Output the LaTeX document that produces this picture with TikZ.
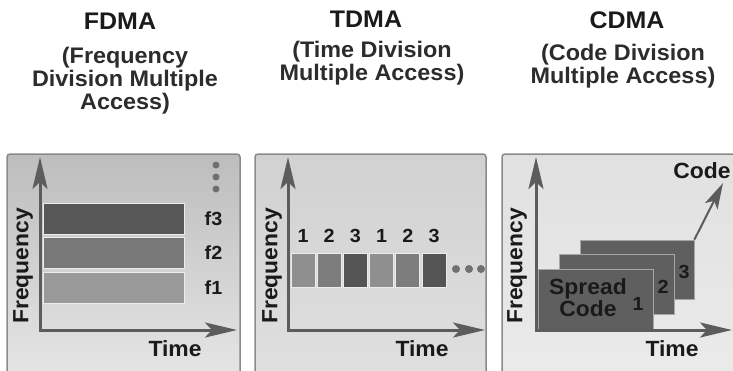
\documentclass[tikz,border=0pt]{standalone}
\usepackage{fontspec}
\setmainfont{Liberation Sans}[FakeStretch=1.04]
\usetikzlibrary{arrows.meta,calc,positioning}

\definecolor{testo}{HTML}{1A1A1A}
\definecolor{bordo}{HTML}{8A8A8A}
\definecolor{assegrigio}{HTML}{5C5C5C}
\definecolor{fbanda3}{HTML}{575757}
\definecolor{fbanda2}{HTML}{787878}
\definecolor{fbanda1}{HTML}{999999}
\definecolor{tslot1}{HTML}{8F8F8F}
\definecolor{tslot2}{HTML}{7D7D7D}
\definecolor{tslot3}{HTML}{545454}
\definecolor{cartagrigia}{HTML}{5F5F5F}
\definecolor{puntini}{HTML}{707070}

\begin{document}
\begin{tikzpicture}[x=1pt, y=-1pt,
    asse/.style={draw=assegrigio, line width=3pt,
        {Stealth[length=32pt, width=15pt, inset=7pt]}-{Stealth[length=32pt, width=15pt, inset=7pt]}},
    codefreccia/.style={draw=assegrigio, line width=2pt, -{Stealth[length=26pt, width=14pt, inset=6pt]}},
    titolo/.style={font=\bfseries\fontsize{24}{26}\selectfont, text=testo, anchor=base, inner sep=0pt},
    sottotitolo/.style={font=\bfseries\fontsize{22.5}{23}\selectfont, text=testo!92!white, align=center, anchor=north, inner sep=0pt},
    etichetta/.style={font=\bfseries\fontsize{22}{22}\selectfont, text=testo, inner sep=0pt},
    numero/.style={font=\bfseries\fontsize{19}{19}\selectfont, text=testo, inner sep=0pt},
    pannello/.style={draw=bordo, line width=1.5pt, rounded corners=3pt},
    banda/.style={draw=white!85!gray, line width=1pt, minimum width=141pt, minimum height=31pt, inner sep=0pt},
    slot/.style={draw=white!85!gray, line width=0.8pt, minimum width=24pt, minimum height=34pt, inner sep=0pt},
    carta/.style={fill=cartagrigia, draw=gray!70, line width=0.8pt, inner sep=0pt},
    punto/.style={circle, fill=puntini, inner sep=0pt, minimum size=7pt}]

    \useasboundingbox (0,0) rectangle (733,370);

    % Titoli
    \node[titolo] (fdma) at (120,29) {FDMA};
    \node[sottotitolo] (fdmasub) at (125,47) {(Frequency\\Division Multiple\\Access)};
    \node[titolo] (tdma) at (366,27) {TDMA};
    \node[sottotitolo] (tdmasub) at (372,41) {(Time Division\\Multiple Access)};
    \node[titolo] (cdma) at (627,28) {CDMA};
    \node[sottotitolo] (cdmasub) at (623,44) {(Code Division\\Multiple Access)};

    % Pannelli di sfondo
    \draw[pannello, top color=gray!52, bottom color=gray!20] (7,154) rectangle (240,376);
    \draw[pannello, top color=gray!36, bottom color=gray!25] (255,154) rectangle (486,376);
    \draw[pannello, top color=gray!24, bottom color=gray!16] (502,154) rectangle (737,376);

    % FDMA: bande di frequenza
    \node[banda, fill=fbanda3] (f3bar) at (113.5,219) {};
    \node[banda, fill=fbanda2] (f2bar) at (113.5,253) {};
    \node[banda, fill=fbanda1] (f1bar) at (113.5,287.5) {};
    \node[numero, right=20pt of f3bar] (f3lab) {f3};
    \node[numero, right=20pt of f2bar] (f2lab) {f2};
    \node[numero, right=20pt of f1bar] (f1lab) {f1};
    \node[punto] (fd1) at (216,165) {};
    \node[punto] (fd2) at (216,177) {};
    \node[punto] (fd3) at (216,189) {};

    % Assi FDMA
    \coordinate (o1) at (40,330);
    \coordinate (y1) at (40,157);
    \coordinate (x1) at (237,330);
    \draw[asse] (y1) -- (o1) -- (x1);
    \node[etichetta, rotate=90] (freq1) at (23,266) {Frequency};
    \node[etichetta] (time1) at (175,349) {Time};

    % TDMA: intervalli di tempo
    \node[slot, fill=tslot1] (s1) at (303,270) {};
    \node[slot, fill=tslot2] (s2) at (329.2,270) {};
    \node[slot, fill=tslot3] (s3) at (355.4,270) {};
    \node[slot, fill=tslot1] (s4) at (381.6,270) {};
    \node[slot, fill=tslot2] (s5) at (407.8,270) {};
    \node[slot, fill=tslot3] (s6) at (434,270) {};
    \node[numero, above=9.5pt of s1] (n1) {1};
    \node[numero, above=9.5pt of s2] (n2) {2};
    \node[numero, above=9.5pt of s3] (n3) {3};
    \node[numero, above=9.5pt of s4] (n4) {1};
    \node[numero, above=9.5pt of s5] (n5) {2};
    \node[numero, above=9.5pt of s6] (n6) {3};
    \node[punto, minimum size=8pt] (td1) at (456,269) {};
    \node[punto, minimum size=8pt] (td2) at (469,269) {};
    \node[punto, minimum size=8pt] (td3) at (481,269) {};

    % Assi TDMA
    \coordinate (o2) at (288,330);
    \coordinate (y2) at (288,157);
    \coordinate (x2) at (485,330);
    \draw[asse] (y2) -- (o2) -- (x2);
    \node[etichetta, rotate=90] (freq2) at (272,266) {Frequency};
    \node[etichetta] (time2) at (422,349) {Time};

    % CDMA: codici sovrapposti
    \node[carta, minimum width=114pt, minimum height=59pt] (c3) at (637,269.5) {};
    \node[carta, minimum width=115pt, minimum height=60pt] (c2) at (616.5,284) {};
    \node[carta, minimum width=115pt, minimum height=61pt] (c1) at (595.5,299.5) {};
    \node[etichetta, align=center] (spread) at (588,298) {Spread\\Code};
    \node[numero] (k1) at (638,304) {1};
    \node[numero] (k2) at (663,287) {2};
    \node[numero] (k3) at (684,272) {3};

    % Assi CDMA
    \coordinate (o3) at (536,330);
    \coordinate (y3) at (536,157);
    \coordinate (x3) at (732,330);
    \draw[asse] (y3) -- (o3) -- (x3);
    \coordinate (ctip) at (723,183);
    \draw[codefreccia] (c3.north east) -- (ctip);
    \node[etichetta] (codelab) at (702,171) {Code};
    \node[etichetta, rotate=90] (freq3) at (517,266) {Frequency};
    \node[etichetta] (time3) at (672,349) {Time};
\end{tikzpicture}
\end{document}
